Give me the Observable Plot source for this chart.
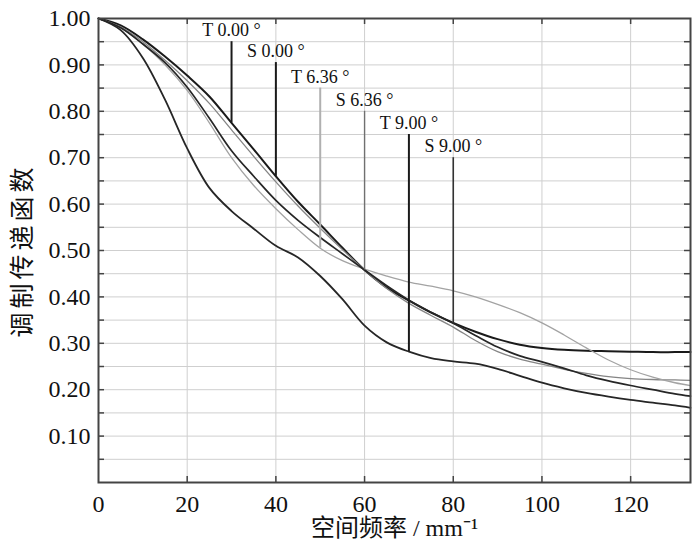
<!DOCTYPE html>
<html><head><meta charset="utf-8">
<script src="https://cdn.jsdelivr.net/npm/d3@7"></script>
<script src="https://cdn.jsdelivr.net/npm/@observablehq/plot@0.6"></script>
<style>body{margin:0;background:#fff}</style>
</head><body><div id="chart"></div>
<script>
// spatial frequency (mm^-1)
const freq = [0,5,10,15,20,25,30,35,40,45,50,55,60,65,70,75,80,85,90,95,100,105,110,115,120,125,130,133.5];
// MTF series
const mtfT0S0 = [1.0,0.985,0.955,0.918,0.877,0.832,0.775,0.718,0.66,0.605,0.556,0.506,0.458,0.42,0.392,0.366,0.344,0.325,0.309,0.297,0.29,0.286,0.284,0.283,0.282,0.281,0.281,0.281];
const mtfS636 = [1.0,0.982,0.95,0.91,0.866,0.817,0.76,0.703,0.648,0.596,0.548,0.502,0.458,0.418,0.386,0.36,0.335,0.306,0.282,0.266,0.255,0.244,0.235,0.228,0.224,0.222,0.221,0.22];
const mtfT636 = [1.0,0.98,0.945,0.9,0.845,0.775,0.70,0.64,0.59,0.545,0.505,0.478,0.46,0.445,0.432,0.423,0.413,0.40,0.384,0.366,0.344,0.318,0.29,0.264,0.243,0.227,0.215,0.209];
const mtfS900 = [1.0,0.98,0.945,0.905,0.852,0.785,0.715,0.66,0.608,0.565,0.528,0.493,0.458,0.424,0.393,0.367,0.343,0.317,0.292,0.273,0.26,0.246,0.231,0.219,0.209,0.2,0.191,0.186];
const mtfT900 = [1.0,0.975,0.915,0.825,0.72,0.635,0.585,0.547,0.51,0.485,0.445,0.395,0.338,0.302,0.282,0.268,0.261,0.256,0.245,0.23,0.215,0.203,0.193,0.185,0.178,0.172,0.166,0.161];

const seriesNames = ["T/S 0.00", "S 6.36", "T 6.36", "S 9.00", "T 9.00"];
const seriesValues = [mtfT0S0, mtfS636, mtfT636, mtfS900, mtfT900];
const seriesColors = ["#1a1a1a", "#858585", "#a3a3a3", "#262626", "#262626"];
const seriesWidths = [2, 1.3, 1.3, 1.7, 1.8];

// callout labels
const labelText = ["T 0.00", "S 0.00", "T 6.36", "S 6.36", "T 9.00", "S 9.00"];
const labelFreq = [30, 40, 50, 60, 70, 80];
const labelSeries = [0, 0, 2, 1, 4, 3];
const labelTop = [0.95, 0.905, 0.85, 0.80, 0.75, 0.70];
const labelColors = ["#1a1a1a", "#1a1a1a", "#b0b0b0", "#707070", "#1a1a1a", "#333"];
const labelWidths = [2, 2, 2, 1.4, 2, 1.6];

const xTicks = [0, 20, 40, 60, 80, 100, 120];
const yTicks = [0.1, 0.2, 0.3, 0.4, 0.5, 0.6, 0.7, 0.8, 0.9, 1.0];
const yMinor = [0.05,0.1,0.15,0.2,0.25,0.3,0.35,0.4,0.45,0.5,0.55,0.6,0.65,0.7,0.75,0.8,0.85,0.9,0.95];
const xTitle = "空间频率 / mm⁻¹";
const yTitle = "调制传递函数";

const rows = [];
seriesNames.forEach((s, i) => freq.forEach((f, j) => rows.push({series: s, f, v: seriesValues[i][j]})));
const labels = labelText.map((t, i) => ({
  text: t + " °",
  f: labelFreq[i],
  top: labelTop[i],
  bottom: seriesValues[labelSeries[i]][freq.indexOf(labelFreq[i])],
  color: labelColors[i],
  w: labelWidths[i]
}));

const W = 700, H = 552, ML = 98, MR = 10, MT = 18, MB = 70;
const plotW = W - ML - MR, plotH = H - MT - MB;
const serif = "Liberation Serif, Times New Roman, serif";
const cjk = "Liberation Serif, Noto Sans CJK SC, serif";

const marks = [
  Plot.gridY(yMinor, {stroke: "#cfcfcf", strokeOpacity: 1, strokeWidth: 1}),
  Plot.gridX(xTicks.filter(d => d > 0), {stroke: "#cfcfcf", strokeOpacity: 1, strokeWidth: 1}),
  // inner ticks
  Plot.tickY(yMinor, {y: d => d, insetRight: plotW - 6, stroke: "#444", strokeWidth: 1.5}),
  Plot.tickY(yMinor, {y: d => d, insetLeft: plotW - 6, stroke: "#444", strokeWidth: 1.5}),
  Plot.tickX(xTicks.filter(d => d > 0), {x: d => d, insetTop: plotH - 6, stroke: "#444", strokeWidth: 1.5}),
  Plot.tickX(xTicks.filter(d => d > 0), {x: d => d, insetBottom: plotH - 6, stroke: "#444", strokeWidth: 1.5}),
  ...seriesNames.map((s, i) => Plot.line(rows.filter(r => r.series === s), {
    x: "f", y: "v", curve: "catmull-rom", stroke: seriesColors[i], strokeWidth: seriesWidths[i]
  })),
  Plot.ruleX(labels, {x: "f", y1: "bottom", y2: "top", stroke: "color", strokeWidth: "w"}),
  Plot.text(labels, {x: "f", y: "top", text: "text", dy: -11, dx: 0, fontSize: 18, fontFamily: serif, fill: "#111"}),
  Plot.frame({stroke: "#444", strokeWidth: 2}),
  Plot.axisX(xTicks, {tickSize: 0, tickPadding: 12, tickFormat: d => String(d), fontSize: 24, fontFamily: serif, label: null}),
  Plot.axisY(yTicks, {tickSize: 0, tickPadding: 8, tickFormat: d => d.toFixed(2), fontSize: 24, fontFamily: serif, label: null}),
  Plot.text([xTitle], {frameAnchor: "bottom", lineAnchor: "middle", textAnchor: "middle", dy: 46, fontSize: 24, fontFamily: cjk, fill: "#111"}),
  Plot.text([yTitle], {frameAnchor: "left", textAnchor: "middle", lineAnchor: "middle", dx: -76, rotate: -90, fontSize: 25, fontFamily: cjk, fill: "#111"})
];

const chart = Plot.plot({
  width: W, height: H,
  marginLeft: ML, marginRight: MR, marginTop: MT, marginBottom: MB,
  x: {domain: [0, 133.5]},
  y: {domain: [0, 1]},
  style: {background: "#fff", color: "#111", fontFamily: serif, fontSize: "24px"},
  marks
});
document.getElementById("chart").appendChild(chart);
d3.select(chart).selectAll("text").attr("font-family", cjk).style("font-family", cjk).style("font-variant-numeric", "normal");
d3.select(chart).selectAll("text").filter(function () { return this.textContent === yTitle; })
  .attr("letter-spacing", "4px");
</script>
</body></html>
